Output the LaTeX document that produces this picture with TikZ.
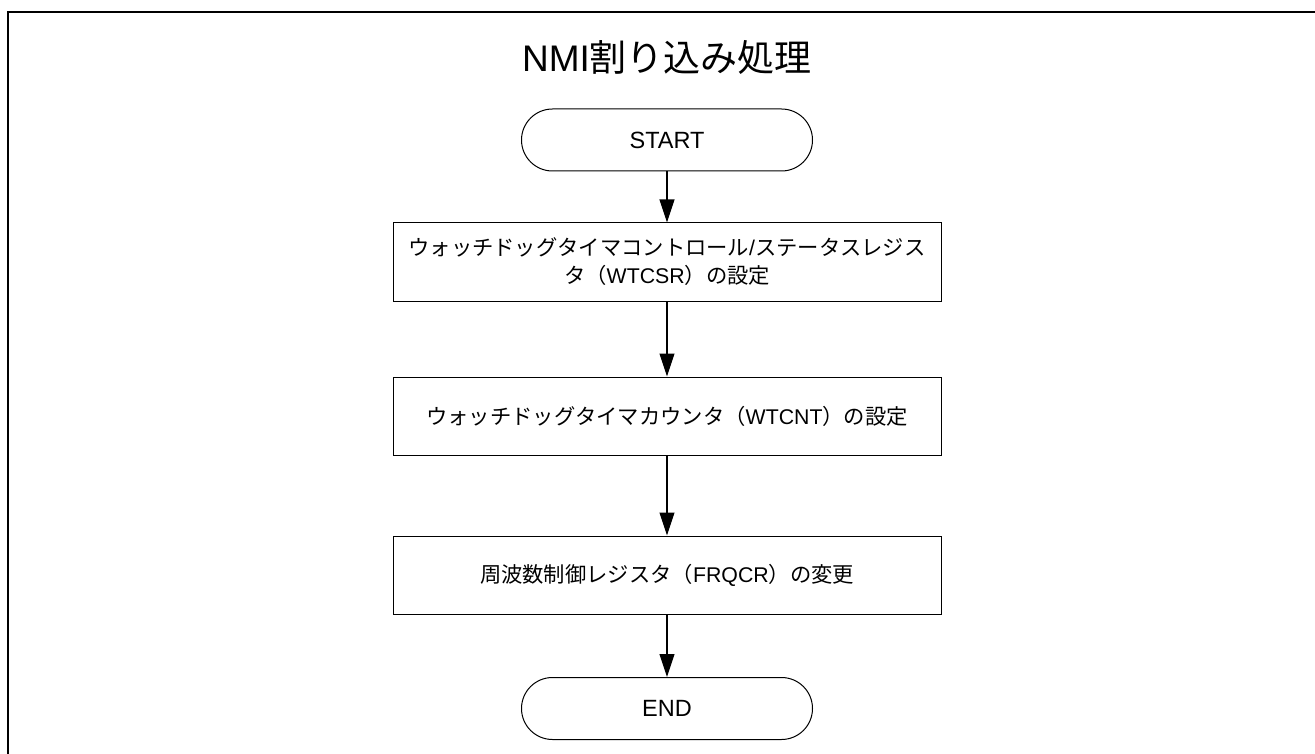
\documentclass[tikz,border=0pt]{standalone}
\usepackage{fontspec}
\setmainfont{Liberation Sans}
\newfontfamily\jp{Noto Sans CJK JP}
\usetikzlibrary{arrows.meta}
\tikzset{
  frameline/.style={line width=2.6pt},
  term/.style={draw, line width=1pt, rectangle, rounded corners=31pt, minimum width=291pt, minimum height=62pt, inner sep=0pt, font=\fontsize{23.5}{28}\selectfont},
  proc/.style={draw, line width=1pt, rectangle, minimum width=548pt, minimum height=78pt, inner sep=0pt, align=center, font=\fontsize{21.3}{28}\selectfont},
  arr/.style={line width=1.1pt, -{Triangle[length=23pt,width=15pt]}},
  ttl/.style={font=\fontsize{37}{44}\selectfont, inner sep=0pt}
}
\begin{document}
\begin{tikzpicture}[x=1pt,y=-1pt]
\useasboundingbox (0,0) rectangle (1315,754);
\draw[frameline] (8,754) -- (8,12) -- (1315,12);
\node[ttl, anchor=base] (title) at (667,72) {NMI{\jp 割り込み処理}};
\node[term] (start) at (667,140) {START};
\node[proc] (b1) at (667,262) {{\jp ウォッチドッグタイマコントロール}/{\jp ステータスレジス}\\{\jp タ（}WTCSR{\jp ）の設定}};
\node[proc] (b2) at (667,416) {{\jp ウォッチドッグタイマカウンタ（}WTCNT{\jp ）の設定}};
\node[proc] (b3) at (667,575) {{\jp 周波数制御レジスタ（}FRQCR{\jp ）の変更}};
\node[term] (end) at (667,708.5) {END};
\draw[arr] (start) -- (b1);
\draw[arr] (b1) -- (b2);
\draw[arr] (b2) -- (b3);
\draw[arr] (b3) -- (end);
\end{tikzpicture}
\end{document}
